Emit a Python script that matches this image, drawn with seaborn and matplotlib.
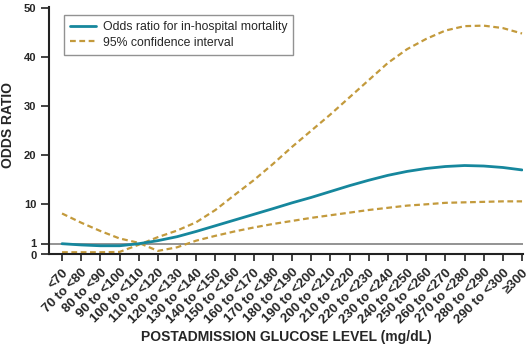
import numpy as np
import pandas as pd
import matplotlib
matplotlib.use("Agg")
import matplotlib.pyplot as plt
import matplotlib.transforms as mtransforms
import seaborn as sns

# Glucose bins (mg/dL) on the x axis
categories = ["<70", "70 to <80", "80 to <90", "90 to <100", "100 to <110",
              "110 to <120", "120 to <130", "130 to <140", "140 to <150",
              "150 to <160", "160 to <170", "170 to <180", "180 to <190",
              "190 to <200", "200 to <210", "210 to <220", "220 to <230",
              "230 to <240", "240 to <250", "250 to <260", "260 to <270",
              "270 to <280", "280 to <290", "290 to <300", "\u2265300"]

# Odds ratio for in-hospital mortality per bin
odds_ratio = [1.0, 0.88, 0.8, 0.8, 1.0, 1.7, 2.6, 3.8, 5.1, 6.4, 7.7, 9.0, 10.3,
              11.4, 12.6, 13.8, 14.9, 15.9, 16.7, 17.3, 17.7, 17.9, 17.8, 17.5, 17.0]

# 95% confidence bounds (the two bounds cross near 110 mg/dL)
ci_bound_a = [7.9, 5.8, 3.9, 2.2, 1.2, 0.3, 0.65, 1.7, 2.8, 3.8, 4.7, 5.5, 6.2,
              6.9, 7.5, 8.1, 8.7, 9.2, 9.7, 10.0, 10.3, 10.4, 10.5, 10.6, 10.6]
ci_bound_b = [0.17, 0.17, 0.17, 0.2, 0.9, 2.5, 4.0, 5.9, 8.7, 11.9, 14.9, 18.2, 21.7,
              25.0, 28.3, 31.8, 35.3, 38.8, 41.6, 43.7, 45.4, 46.3, 46.4, 45.9, 44.8]

y_ticks = [0, 1, 10, 20, 30, 40, 50]

TEAL = "#16879d"
GOLD = "#c39a3c"

sns.set_style("ticks")
plt.rcParams["font.family"] = ["Liberation Sans", "DejaVu Sans"]

df = pd.DataFrame({
    "pos": np.arange(len(categories)),
    "odds": odds_ratio,
    "ci_a": ci_bound_a,
    "ci_b": ci_bound_b,
})

fig = plt.figure(figsize=(5.29, 3.44), dpi=100)
ax = fig.add_axes([49 / 529, 90 / 344, 474 / 529, 247.5 / 344])

# y axis: the 0-1 band is stretched, the rest is linear
knots_val = [0, 1, 10, 50, 100]
knots_pos = [0, 2.1, 10.14, 50.2, 100.2]


def fwd(v):
    return np.interp(v, knots_val, knots_pos)


def inv(p):
    return np.interp(p, knots_pos, knots_val)


ax.set_yscale("function", functions=(fwd, inv))

ax.axhline(1, color="#8a8a8a", lw=1.3, zorder=1)

dash = (0, (2.6, 1.6))
sns.lineplot(data=df, x="pos", y="ci_a", ax=ax, color=GOLD, lw=1.6,
             linestyle=dash, label="95% confidence interval", zorder=2)
sns.lineplot(data=df, x="pos", y="ci_b", ax=ax, color=GOLD, lw=1.6,
             linestyle=dash, zorder=2)
sns.lineplot(data=df, x="pos", y="odds", ax=ax, color=TEAL, lw=2.0,
             label="Odds ratio for in-hospital mortality", zorder=3)

ax.set_xlim(-0.68, 24.05)
ax.set_ylim(0, 50.3)
ax.set_yticks(y_ticks)
ax.set_yticklabels([str(t) for t in y_ticks])
ax.set_xticks(df["pos"])
ax.set_xticklabels(categories)

ax.tick_params(axis="both", direction="out", length=5, width=1.2,
               color="#222222")
ax.tick_params(axis="x", pad=4)
ax.tick_params(axis="y", length=6, pad=3)

for lab in ax.get_xticklabels():
    lab.set_rotation(45)
    lab.set_ha("right")
    lab.set_va("top")
    lab.set_rotation_mode("anchor")
    lab.set_fontweight("bold")
    lab.set_fontsize(9.5)
for lab in ax.get_yticklabels():
    lab.set_fontweight("bold")
    lab.set_fontsize(8)

# "0" and "1" sit close together; ease them apart by a hair
yticks_objs = ax.yaxis.get_major_ticks()
for tick, dy in ((yticks_objs[0], -0.8), (yticks_objs[1], 0.8)):
    lbl = tick.label1
    lbl.set_transform(lbl.get_transform()
                      + mtransforms.ScaledTranslation(0, dy / 72, fig.dpi_scale_trans))

for side in ("top", "right"):
    ax.spines[side].set_visible(False)
for side in ("left", "bottom"):
    ax.spines[side].set_linewidth(1.5)
    ax.spines[side].set_color("#222222")

ax.set_xlabel("POSTADMISSION GLUCOSE LEVEL (mg/dL)", fontweight="bold",
              fontsize=10, va="top")
ax.set_ylabel("ODDS RATIO", fontweight="bold", fontsize=10)
ax.xaxis.set_label_coords(0.5, -0.308)
ax.yaxis.set_label_coords(-0.072, 0.52)

# Legend: odds ratio first, then the confidence interval
handles, labels = ax.get_legend_handles_labels()
order = [labels.index("Odds ratio for in-hospital mortality"),
         labels.index("95% confidence interval")]
leg = ax.legend([handles[i] for i in order], [labels[i] for i in order],
                loc="upper left", bbox_to_anchor=(0.032, 0.966),
                borderaxespad=0, fontsize=8.8, frameon=True, fancybox=False,
                edgecolor="#777777", handlelength=2.1, handletextpad=0.55,
                borderpad=0.5, labelspacing=0.3)
leg.get_frame().set_linewidth(1.0)

fig.savefig("out.png", dpi=100)
